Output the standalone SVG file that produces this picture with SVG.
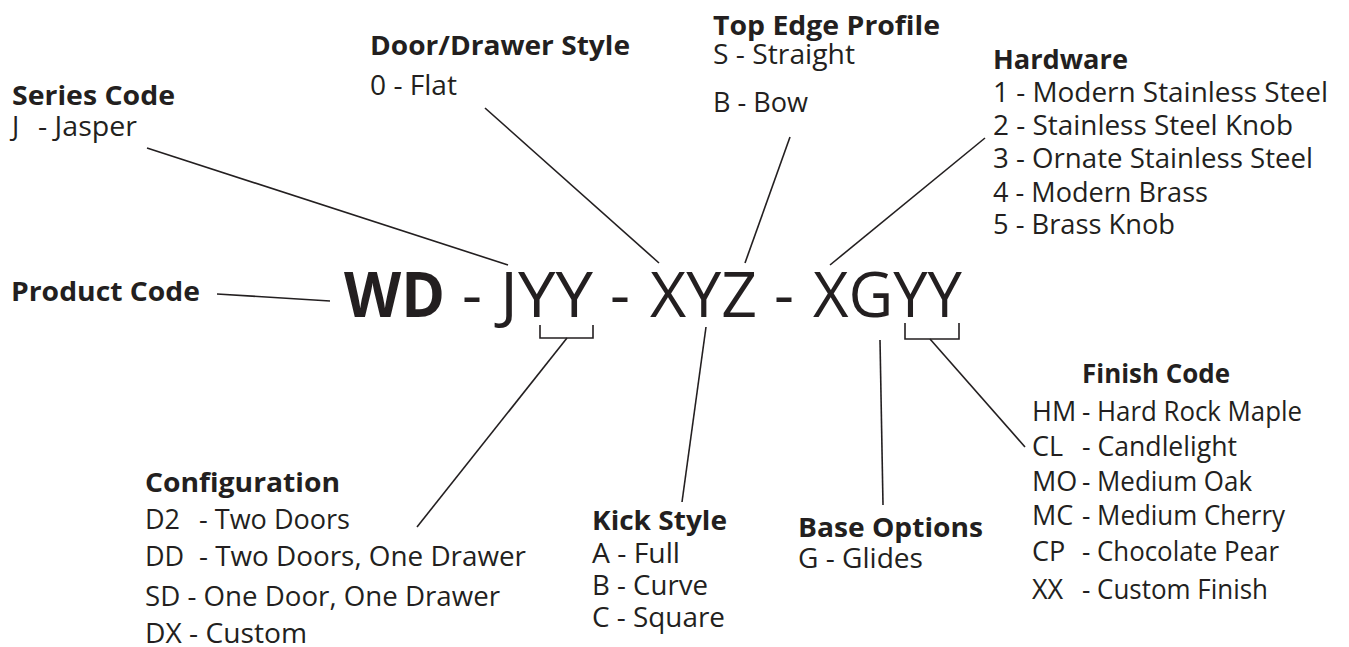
<svg xmlns="http://www.w3.org/2000/svg" width="1349" height="647" viewBox="0 0 1349 647">
<style>
text{font-family:"Open Sans","Noto Sans","Liberation Sans",sans-serif;fill:#231f20;font-size:27px;white-space:pre}
.h{font-weight:700}
.big{font-size:62px}
.ln{stroke:#231f20;stroke-width:1.6;fill:none;stroke-linecap:butt}
</style>
<rect width="1349" height="647" fill="#fff"/>
<g id="code">
<text class="big h" x="344" y="317" textLength="101" lengthAdjust="spacingAndGlyphs">WD</text>
<text class="big" x="462" y="317">-</text>
<text class="big" x="500" y="317" textLength="93" lengthAdjust="spacingAndGlyphs">JYY</text>
<text class="big" x="610" y="317">-</text>
<text class="big" x="650" y="317" textLength="107" lengthAdjust="spacingAndGlyphs">XYZ</text>
<text class="big" x="774" y="317">-</text>
<text class="big" x="813" y="317" textLength="149" lengthAdjust="spacingAndGlyphs">XGYY</text>
</g>
<g id="product-code">
<text class="h" x="11" y="301" textLength="189" lengthAdjust="spacingAndGlyphs">Product Code</text>
</g>
<g id="series-code">
<text class="h" x="12" y="105" textLength="163" lengthAdjust="spacingAndGlyphs">Series Code</text>
<text x="12" y="136">J</text>
<text x="38" y="136" textLength="99" lengthAdjust="spacingAndGlyphs">- Jasper</text>
</g>
<g id="door-drawer-style">
<text class="h" x="370" y="55" textLength="260" lengthAdjust="spacingAndGlyphs">Door/Drawer Style</text>
<text x="370" y="95" textLength="87" lengthAdjust="spacingAndGlyphs">0 - Flat</text>
</g>
<g id="top-edge-profile">
<text class="h" x="713" y="35" textLength="227" lengthAdjust="spacingAndGlyphs">Top Edge Profile</text>
<text x="713" y="64" textLength="142" lengthAdjust="spacingAndGlyphs">S - Straight</text>
<text x="713" y="112" textLength="95" lengthAdjust="spacingAndGlyphs">B - Bow</text>
</g>
<g id="hardware">
<text class="h" x="993" y="69" textLength="135" lengthAdjust="spacingAndGlyphs">Hardware</text>
<text x="993" y="102" textLength="335" lengthAdjust="spacingAndGlyphs">1 - Modern Stainless Steel</text>
<text x="993" y="135" textLength="300" lengthAdjust="spacingAndGlyphs">2 - Stainless Steel Knob</text>
<text x="993" y="168" textLength="320" lengthAdjust="spacingAndGlyphs">3 - Ornate Stainless Steel</text>
<text x="993" y="202" textLength="215" lengthAdjust="spacingAndGlyphs">4 - Modern Brass</text>
<text x="993" y="234" textLength="182" lengthAdjust="spacingAndGlyphs">5 - Brass Knob</text>
</g>
<g id="configuration">
<text class="h" x="145" y="492" textLength="195" lengthAdjust="spacingAndGlyphs">Configuration</text>
<text x="145" y="529">D2</text>
<text x="199" y="529" textLength="151" lengthAdjust="spacingAndGlyphs">- Two Doors</text>
<text x="145" y="566">DD</text>
<text x="199" y="566" textLength="327" lengthAdjust="spacingAndGlyphs">- Two Doors, One Drawer</text>
<text x="145" y="606" textLength="355" lengthAdjust="spacingAndGlyphs">SD - One Door, One Drawer</text>
<text x="145" y="643" textLength="162" lengthAdjust="spacingAndGlyphs">DX - Custom</text>
</g>
<g id="kick-style">
<text class="h" x="592" y="530" textLength="135" lengthAdjust="spacingAndGlyphs">Kick Style</text>
<text x="592" y="563" textLength="88" lengthAdjust="spacingAndGlyphs">A - Full</text>
<text x="592" y="595" textLength="116" lengthAdjust="spacingAndGlyphs">B - Curve</text>
<text x="592" y="627" textLength="133" lengthAdjust="spacingAndGlyphs">C - Square</text>
</g>
<g id="base-options">
<text class="h" x="798" y="537" textLength="185" lengthAdjust="spacingAndGlyphs">Base Options</text>
<text x="798" y="568" textLength="125" lengthAdjust="spacingAndGlyphs">G - Glides</text>
</g>
<g id="finish-code">
<text class="h" x="1082" y="383" textLength="148" lengthAdjust="spacingAndGlyphs">Finish Code</text>
<text x="1032" y="421">HM</text>
<text x="1082" y="421" textLength="220" lengthAdjust="spacingAndGlyphs">- Hard Rock Maple</text>
<text x="1032" y="456">CL</text>
<text x="1082" y="456" textLength="155" lengthAdjust="spacingAndGlyphs">- Candlelight</text>
<text x="1032" y="491">MO</text>
<text x="1082" y="491" textLength="170" lengthAdjust="spacingAndGlyphs">- Medium Oak</text>
<text x="1032" y="525">MC</text>
<text x="1082" y="525" textLength="203" lengthAdjust="spacingAndGlyphs">- Medium Cherry</text>
<text x="1032" y="561">CP</text>
<text x="1082" y="561" textLength="197" lengthAdjust="spacingAndGlyphs">- Chocolate Pear</text>
<text x="1032" y="599">XX</text>
<text x="1082" y="599" textLength="186" lengthAdjust="spacingAndGlyphs">- Custom Finish</text>
</g>
<g id="connectors" class="ln">
<path class="ln" d="M217,294 L330,301"/>
<path class="ln" d="M147,148 L508,265"/>
<path class="ln" d="M485,108 L659,263"/>
<path class="ln" d="M790,137 L745,263"/>
<path class="ln" d="M985,138 L830,265"/>
<path class="ln" d="M540,325 V338 H593 V325"/>
<path class="ln" d="M567,338 L417,527"/>
<path class="ln" d="M706,327 L682,502"/>
<path class="ln" d="M880,340 L883,505"/>
<path class="ln" d="M905,323 V339 H959 V323"/>
<path class="ln" d="M930,339 L1025,447"/>
</g>
</svg>
